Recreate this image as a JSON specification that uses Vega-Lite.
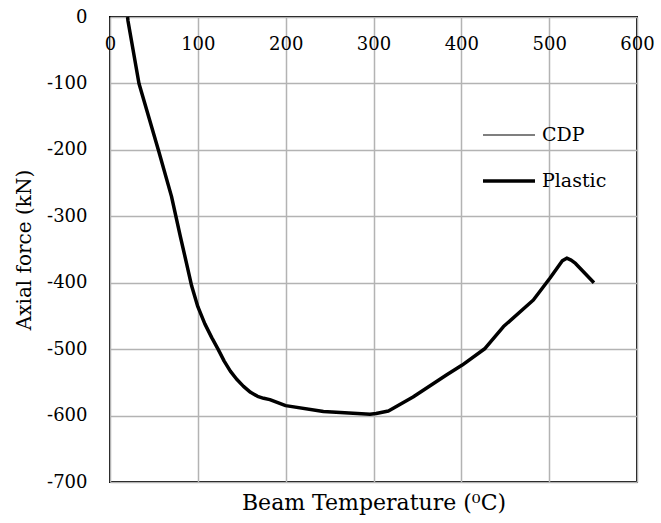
{
  "$schema": "https://vega.github.io/schema/vega-lite/v6.json",
  "autosize": "none",
  "width": 527,
  "height": 465,
  "padding": {"left": 110, "top": 17, "right": 24, "bottom": 41},
  "background": "white",
  "config": {
    "font": "DejaVu Serif",
    "view": {"stroke": "black", "strokeWidth": 2},
    "axis": {
      "grid": true,
      "gridColor": "#b3b3b3",
      "gridWidth": 1.5,
      "gridOpacity": 1,
      "ticks": false,
      "domain": false,
      "labelFont": "DejaVu Serif",
      "labelFontSize": 18,
      "labelColor": "black",
      "titleFont": "DejaVu Serif",
      "titleFontSize": 20,
      "titleFontWeight": "normal",
      "titleColor": "black"
    }
  },
  "data": {
    "values": [
      {"T": 20, "F": 0, "series": "Plastic"},
      {"T": 20.5, "F": -6, "series": "Plastic"},
      {"T": 33, "F": -100, "series": "Plastic"},
      {"T": 55, "F": -200, "series": "Plastic"},
      {"T": 70, "F": -270, "series": "Plastic"},
      {"T": 80, "F": -330, "series": "Plastic"},
      {"T": 87, "F": -370, "series": "Plastic"},
      {"T": 93, "F": -405, "series": "Plastic"},
      {"T": 100, "F": -436, "series": "Plastic"},
      {"T": 108, "F": -462, "series": "Plastic"},
      {"T": 116, "F": -483, "series": "Plastic"},
      {"T": 123, "F": -500, "series": "Plastic"},
      {"T": 130, "F": -518, "series": "Plastic"},
      {"T": 137, "F": -533, "series": "Plastic"},
      {"T": 144, "F": -545, "series": "Plastic"},
      {"T": 152, "F": -556, "series": "Plastic"},
      {"T": 160, "F": -565, "series": "Plastic"},
      {"T": 168, "F": -571, "series": "Plastic"},
      {"T": 175, "F": -574, "series": "Plastic"},
      {"T": 182, "F": -576, "series": "Plastic"},
      {"T": 200, "F": -585, "series": "Plastic"},
      {"T": 243, "F": -594, "series": "Plastic"},
      {"T": 296, "F": -598, "series": "Plastic"},
      {"T": 303, "F": -597, "series": "Plastic"},
      {"T": 317, "F": -593, "series": "Plastic"},
      {"T": 345, "F": -572, "series": "Plastic"},
      {"T": 383, "F": -539, "series": "Plastic"},
      {"T": 401, "F": -524, "series": "Plastic"},
      {"T": 427, "F": -499, "series": "Plastic"},
      {"T": 448, "F": -466, "series": "Plastic"},
      {"T": 482, "F": -426, "series": "Plastic"},
      {"T": 501, "F": -393, "series": "Plastic"},
      {"T": 515, "F": -367, "series": "Plastic"},
      {"T": 520, "F": -363, "series": "Plastic"},
      {"T": 525, "F": -366, "series": "Plastic"},
      {"T": 530, "F": -371, "series": "Plastic"},
      {"T": 551, "F": -400, "series": "Plastic"}
    ]
  },
  "mark": {"type": "line", "color": "black", "strokeJoin": "round", "strokeCap": "butt"},
  "encoding": {
    "x": {
      "field": "T",
      "type": "quantitative",
      "scale": {"domain": [0, 600], "nice": false, "zero": false},
      "axis": {
        "orient": "bottom",
        "offset": -465,
        "values": [0, 100, 200, 300, 400, 500, 600],
        "labelPadding": 18,
        "labelFlush": false,
        "labelOverlap": false,
        "title": "Beam Temperature (⁰C)",
        "titleFontSize": 22,
        "titleY": 492,
        "titleBaseline": "alphabetic"
      }
    },
    "y": {
      "field": "F",
      "type": "quantitative",
      "scale": {"domain": [-700, 0], "nice": false, "zero": false},
      "axis": {
        "values": [-700, -600, -500, -400, -300, -200, -100, 0],
        "labelExpr": "toString(datum.value)",
        "labelPadding": 23,
        "title": "Axial force (kN)",
        "titleX": -86,
        "titleBaseline": "middle"
      }
    },
    "strokeWidth": {
      "field": "series",
      "type": "nominal",
      "scale": {"domain": ["CDP", "Plastic"], "range": [1.2, 3.5]},
      "legend": {
        "orient": "none",
        "legendX": 371,
        "legendY": 91,
        "title": null,
        "padding": 0,
        "symbolType": "stroke",
        "symbolSize": 2704,
        "symbolStrokeColor": "black",
        "labelFont": "DejaVu Serif",
        "labelFontSize": 19,
        "labelColor": "black",
        "labelOffset": 5,
        "rowPadding": 8
      }
    }
  }
}
